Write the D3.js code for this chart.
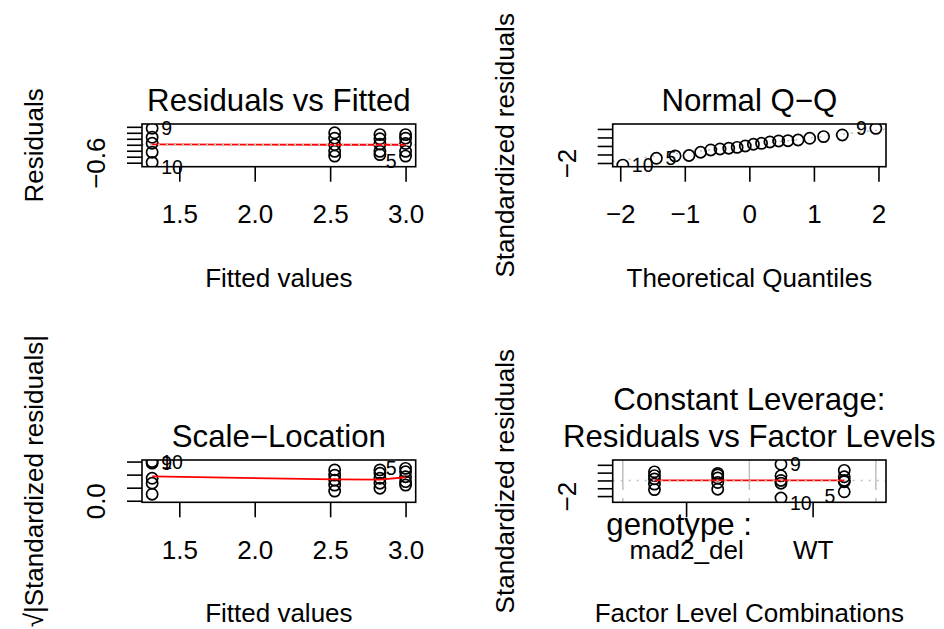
<!DOCTYPE html>
<html>
<head>
<meta charset="utf-8">
<script src="https://cdn.jsdelivr.net/npm/d3@7"></script>
<style>
  body { margin: 0; background: #fff; }
  text { font-family: "Liberation Sans", Arial, Helvetica, sans-serif; fill: #000; }
</style>
</head>
<body>
<div id="chart"></div>
<script>
const width = 944;
const height = 629;

// Residuals vs Fitted
const fittedLevels = [1.32, 2.53, 2.83, 3.0];
const residuals = [
  [0.55, 0.25, 0.05, -0.25, -0.59],
  [0.40, 0.22, 0.0, -0.22, -0.38],
  [0.34, 0.20, 0.02, -0.22, -0.33],
  [0.34, 0.22, 0.04, -0.22, -0.38]
];
const residSmooth = [0.01, 0.0, 0.0, 0.0];
const residIds = [
  { g: 0, i: 0, id: "9" },
  { g: 0, i: 4, id: "10" },
  { g: 3, i: 4, id: "5" }
];

// Normal Q-Q
const theoQuantiles = [-1.96, -1.44, -1.15, -0.935, -0.755, -0.598, -0.454, -0.319, -0.189, -0.063,
  0.063, 0.189, 0.319, 0.454, 0.598, 0.755, 0.935, 1.15, 1.44, 1.96];
const stdResSorted = [-2.25, -1.45, -1.17, -1.12, -0.74, -0.47, -0.35, -0.27, -0.16, 0.0,
  0.2, 0.31, 0.47, 0.59, 0.62, 0.70, 0.90, 1.10, 1.29, 2.07];
const qqIds = [{ i: 0, id: "10" }, { i: 1, id: "5" }, { i: 19, id: "9" }];
const qqLineIntercept = 0.1;
const qqLineSlope = 0.89;

// Scale-Location
const sqrtAbsStd = [
  [1.44, 1.50, 0.86, 0.67, 0.25],
  [1.18, 0.98, 0.79, 0.60, 0.37],
  [1.18, 1.05, 0.86, 0.67, 0.48],
  [1.24, 1.11, 0.92, 0.73, 0.60]
];
const scaleSmooth = [0.93, 0.82, 0.81, 0.90];
const scaleIds = [
  { g: 0, i: 0, id: "9" },
  { g: 0, i: 1, id: "10" },
  { g: 3, i: 0, id: "5" }
];

// Residuals vs Factor Levels
const comboPos = [0, 1, 2, 3];
const stdResByCombo = [
  [1.10, 0.62, 0.20, -0.47, -1.17],
  [0.90, 0.70, 0.31, -0.27, -1.12],
  [2.07, 0.59, 0.0, -0.35, -2.25],
  [1.29, 0.47, 0.0, -0.16, -1.45]
];
const factorSmooth = [0.0, 0.0, 0.0, 0.0];
const factorIds = [
  { g: 2, i: 0, id: "9" },
  { g: 2, i: 4, id: "10" },
  { g: 3, i: 4, id: "5" }
];
const genotypeLevels = ["mad2_del", "WT"];
const genotypeTicks = [0.5, 2.5];
const levelBounds = [-0.5, 1.5, 3.5];

const svg = d3
  .select("#chart")
  .append("svg")
  .attr("width", width)
  .attr("height", height)
  .style("background", "#fff");

const boxes = [
  { x0: 142, x1: 415.7, y0: 124, y1: 166.7 },
  { x0: 612.7, x1: 886, y0: 124, y1: 166.7 },
  { x0: 142, x1: 415.7, y0: 460, y1: 502.3 },
  { x0: 612.7, x1: 886, y0: 460, y1: 502.3 }
];

const baseSize = 26;
const titleSize = 31.2;
const idSize = 19.5;

// R style axis extension
const ext = (lo, hi, f = 0.04) => [lo - f * (hi - lo), hi + f * (hi - lo)];

function makePanel(k, xlim, ylim) {
  const b = boxes[k];
  const x = d3.scaleLinear().domain(ext(xlim[0], xlim[1])).range([b.x0, b.x1]);
  const y = d3.scaleLinear().domain(ext(ylim[0], ylim[1])).range([b.y1, b.y0]);
  const g = svg.append("g");
  svg
    .append("clipPath")
    .attr("id", "clip" + k)
    .append("rect")
    .attr("x", b.x0)
    .attr("y", b.y0)
    .attr("width", b.x1 - b.x0)
    .attr("height", b.y1 - b.y0);
  const plot = g.append("g").attr("clip-path", `url(#clip${k})`);
  return { b, x, y, g, plot };
}

function drawFrame(p, title, xlab, ylab) {
  const { b, g } = p;
  g.append("rect")
    .attr("x", b.x0)
    .attr("y", b.y0)
    .attr("width", b.x1 - b.x0)
    .attr("height", b.y1 - b.y0)
    .attr("fill", "none")
    .attr("stroke", "#000")
    .attr("stroke-width", 1.6);

  const cx = (b.x0 + b.x1) / 2;
  const cy = (b.y0 + b.y1) / 2;
  const titles = Array.isArray(title) ? title : [title];
  titles.forEach((t, i) => {
    g.append("text")
      .attr("x", cx)
      .attr("y", b.y0 - 13 - (titles.length - 1 - i) * 37.5)
      .attr("text-anchor", "middle")
      .style("font-size", titleSize + "px")
      .text(t);
  });
  g.append("text")
    .attr("x", cx)
    .attr("y", b.y1 + 120)
    .attr("text-anchor", "middle")
    .style("font-size", baseSize + "px")
    .text(xlab);
  g.append("text")
    .attr("transform", `translate(${b.x0 - 98.7},${cy}) rotate(-90)`)
    .attr("text-anchor", "middle")
    .style("font-size", baseSize + "px")
    .text(ylab);
}

function xAxis(p, ticks, fmt) {
  const ax = p.g
    .append("g")
    .attr("transform", `translate(0,${p.b.y1})`)
    .call(d3.axisBottom(p.x).tickValues(ticks).tickSize(15).tickPadding(22.8).tickFormat(fmt));
  ax.select(".domain").remove();
  ax.selectAll("line").attr("stroke", "#000").attr("stroke-width", 1.6);
  ax.selectAll("text")
    .style("font-size", baseSize + "px")
    .style("font-family", '"Liberation Sans", Arial, sans-serif')
    .attr("fill", "#000");
}

function yAxis(p, ticks, fmt) {
  const ax = p.g
    .append("g")
    .attr("transform", `translate(${p.b.x0},0)`)
    .call(d3.axisLeft(p.y).tickValues(ticks).tickSize(15).tickFormat(fmt));
  ax.select(".domain").remove();
  ax.selectAll("line").attr("stroke", "#000").attr("stroke-width", 1.6);
  ax.selectAll("text")
    .attr("x", null)
    .attr("dy", null)
    .attr("text-anchor", "middle")
    .attr("transform", "translate(-37,0) rotate(-90)")
    .style("font-size", baseSize + "px")
    .style("font-family", '"Liberation Sans", Arial, sans-serif')
    .attr("fill", "#000");
}

function circles(p, pts) {
  p.plot
    .selectAll(null)
    .data(pts)
    .join("circle")
    .attr("cx", (d) => p.x(d[0]))
    .attr("cy", (d) => p.y(d[1]))
    .attr("r", 5.6)
    .attr("fill", "none")
    .attr("stroke", "#000")
    .attr("stroke-width", 1.7);
}

function smooth(p, pts) {
  p.plot
    .append("path")
    .datum(pts)
    .attr("d", d3.line().x((d) => p.x(d[0])).y((d) => p.y(d[1])))
    .attr("fill", "none")
    .attr("stroke", "#ff0000")
    .attr("stroke-width", 1.8);
}

function hZero(p) {
  p.plot
    .append("line")
    .attr("x1", p.b.x0).attr("x2", p.b.x1)
    .attr("y1", p.y(0)).attr("y2", p.y(0))
    .attr("stroke", "#bebebe")
    .attr("stroke-width", 1.5)
    .attr("stroke-dasharray", "2,6");
}

// labels as plot.lm puts them: right of points in the left half of the labelled
// points' range, left otherwise; negative ones dropped by a third of a line
function idLabels(p, items, lowerNeg = true) {
  const mid = d3.mean(d3.extent(items, (d) => d.x));
  p.g
    .selectAll(null)
    .data(items)
    .join("text")
    .attr("x", (d) => p.x(d.x) + (d.x > mid ? -9 : 9))
    .attr("y", (d) => p.y(d.y) + (lowerNeg && d.y < 0 ? 4.7 : 0))
    .attr("dy", "0.36em")
    .attr("text-anchor", (d) => (d.x > mid ? "end" : "start"))
    .style("font-size", idSize + "px")
    .text((d) => d.id);
}

const minusFmt = (v) => (v < 0 ? "\u2212" : "") + Math.abs(v);

// ---- Panel 1: Residuals vs Fitted
{
  const allR = residuals.flat();
  const rl = ext(d3.min(allR), d3.max(allR), 0.08);
  const p = makePanel(0, d3.extent(fittedLevels), rl);
  const pts = residuals.flatMap((rs, g) => rs.map((r) => [fittedLevels[g], r]));
  circles(p, pts);
  smooth(p, fittedLevels.map((f, i) => [f, residSmooth[i]]));
  hZero(p);
  idLabels(p, residIds.map((d) => ({ x: fittedLevels[d.g], y: residuals[d.g][d.i], id: d.id })));
  xAxis(p, [1.5, 2.0, 2.5, 3.0], d3.format(".1f"));
  yAxis(p, [-0.6, -0.4, -0.2, 0, 0.2, 0.4, 0.6], (v) => (Math.abs(v + 0.6) < 1e-9 ? "\u22120.6" : ""));
  drawFrame(p, "Residuals vs Fitted", "Fitted values", "Residuals");
}

// ---- Panel 2: Normal Q-Q
{
  const lo = d3.min(stdResSorted);
  const hi = d3.max(stdResSorted);
  const p = makePanel(1, d3.extent(theoQuantiles), [lo, hi + (hi - lo) * 0.075]);
  p.plot
    .append("line")
    .attr("x1", p.b.x0).attr("x2", p.b.x1)
    .attr("y1", p.y(qqLineIntercept + qqLineSlope * p.x.invert(p.b.x0)))
    .attr("y2", p.y(qqLineIntercept + qqLineSlope * p.x.invert(p.b.x1)))
    .attr("stroke", "#bebebe")
    .attr("stroke-width", 1.5)
    .attr("stroke-dasharray", "2,6");
  circles(p, theoQuantiles.map((q, i) => [q, stdResSorted[i]]));
  idLabels(p, qqIds.map((d) => ({ x: theoQuantiles[d.i], y: stdResSorted[d.i], id: d.id })), false);
  xAxis(p, [-2, -1, 0, 1, 2], minusFmt);
  yAxis(p, [-2, -1, 0, 1, 2], (v) => (v === -2 ? "\u22122" : ""));
  drawFrame(p, "Normal Q\u2212Q", "Theoretical Quantiles", "Standardized residuals");
}

// ---- Panel 3: Scale-Location
{
  const p = makePanel(2, d3.extent(fittedLevels), [0, d3.max(sqrtAbsStd.flat())]);
  const pts = sqrtAbsStd.flatMap((rs, g) => rs.map((r) => [fittedLevels[g], r]));
  circles(p, pts);
  smooth(p, fittedLevels.map((f, i) => [f, scaleSmooth[i]]));
  idLabels(p, scaleIds.map((d) => ({ x: fittedLevels[d.g], y: sqrtAbsStd[d.g][d.i], id: d.id })));
  xAxis(p, [1.5, 2.0, 2.5, 3.0], d3.format(".1f"));
  yAxis(p, [0, 0.5, 1.0, 1.5], (v) => (v === 0 ? "0.0" : ""));
  drawFrame(p, "Scale\u2212Location", "Fitted values", "\u221A|Standardized residuals|");
}

// ---- Panel 4: Residuals vs Factor Levels
{
  const allR = stdResByCombo.flat();
  const rl = ext(d3.min(allR), d3.max(allR), 0.08);
  const p = makePanel(3, [-0.5, 3.5], rl);
  p.plot
    .selectAll(null)
    .data(levelBounds)
    .join("line")
    .attr("x1", (d) => p.x(d)).attr("x2", (d) => p.x(d))
    .attr("y1", p.b.y0).attr("y2", p.b.y1)
    .attr("stroke", "#bebebe")
    .attr("stroke-width", 1.5)
    .attr("stroke-dasharray", "30,8");
  const pts = stdResByCombo.flatMap((rs, g) => rs.map((r) => [comboPos[g], r]));
  circles(p, pts);
  smooth(p, comboPos.map((c, i) => [c, factorSmooth[i]]));
  hZero(p);
  idLabels(p, factorIds.map((d) => ({ x: comboPos[d.g], y: stdResByCombo[d.g][d.i], id: d.id })));
  xAxis(p, genotypeTicks, (v, i) => genotypeLevels[i]);
  yAxis(p, [-2, -1, 0, 1, 2], (v) => (v === -2 ? "\u22122" : ""));
  const gx = p.b.x0 - 0.05 * (p.b.x1 - p.b.x0);
  p.g.append("text")
    .attr("x", gx)
    .attr("y", p.b.y1 + 33)
    .style("font-size", titleSize + "px")
    .text("genotype :")
    .each(function () {
      d3.select(this).attr("x", gx + 0.05 * this.getComputedTextLength());
    });
  drawFrame(p, ["Constant Leverage:", "Residuals vs Factor Levels"], "Factor Level Combinations", "Standardized residuals");
}
</script>
</body>
</html>
